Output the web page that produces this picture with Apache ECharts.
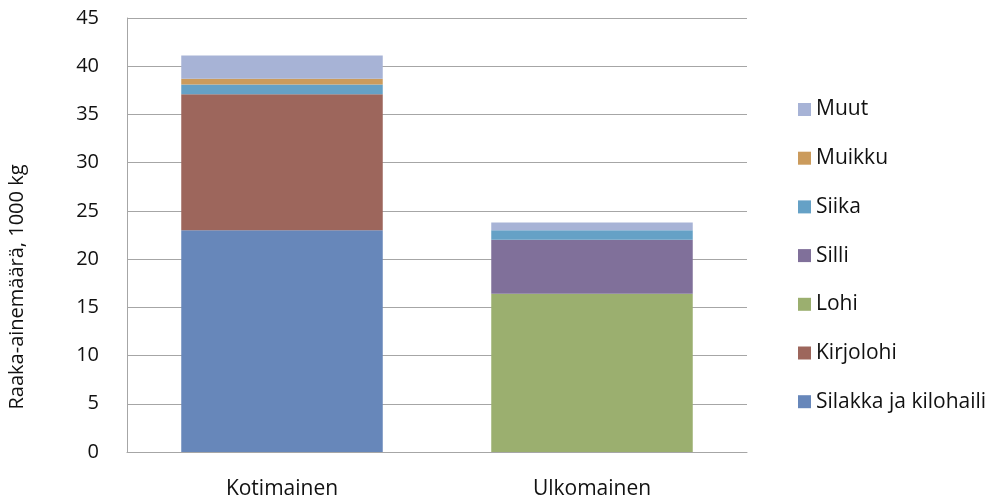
<!DOCTYPE html>
<html>
<head>
<meta charset="utf-8">
<script src="https://cdn.jsdelivr.net/npm/echarts@6/dist/echarts.min.js"></script>
<style>
  html, body { margin: 0; padding: 0; background: #fff; }
  #main { width: 995px; height: 495px; }
</style>
</head>
<body>
<div id="main"></div>
<script>
// categories
const categories = ['Kotimainen', 'Ulkomainen'];
// series values, bottom to top of the stack
const silakka = [23.0, 0];
const kirjolohi = [14.1, 0];
const lohi = [0, 16.4];
const silli = [0, 5.6];
const siika = [1.0, 1.0];
const muikku = [0.6, 0];
const muut = [2.4, 0.8];
const yTicks = [0, 5, 10, 15, 20, 25, 30, 35, 40, 45];

const seriesDefs = [
  { name: 'Silakka ja kilohaili', data: silakka, color: '#6787BA' },
  { name: 'Kirjolohi', data: kirjolohi, color: '#9D665C' },
  { name: 'Lohi', data: lohi, color: '#9BAF6F' },
  { name: 'Silli', data: silli, color: '#80709A' },
  { name: 'Siika', data: siika, color: '#65A1C6' },
  { name: 'Muikku', data: muikku, color: '#CB9B5C' },
  { name: 'Muut', data: muut, color: '#A7B3D6' }
];

let myChart = echarts.init(document.getElementById('main'));
let font = '"Open Sans", "Noto Sans", sans-serif';
let txt = '#111111';

let option = {
  animation: false,
  textStyle: { fontFamily: font },
  grid: { left: 127, right: 248, top: 18, bottom: 43, outerBoundsMode: 'none' },
  legend: {
    orient: 'vertical',
    left: 793,
    top: 94,
    itemWidth: 13,
    itemHeight: 13,
    itemGap: 27.7,
    icon: 'rect',
    data: seriesDefs.map(s => s.name).reverse(),
    textStyle: { fontFamily: font, fontSize: 21, color: txt, padding: [0, 0, 0, 0] }
  },
  xAxis: {
    type: 'category',
    data: categories,
    axisLine: { show: true, lineStyle: { color: '#a6a6a6' } },
    axisTick: { show: false },
    axisLabel: { fontFamily: font, fontSize: 21, color: txt, margin: 27 }
  },
  yAxis: {
    type: 'value',
    min: yTicks[0],
    max: yTicks[yTicks.length - 1],
    interval: 5,
    name: 'Raaka-ainemäärä, 1000 kg',
    nameLocation: 'middle',
    nameGap: 100,
    // title sits a bit below the middle of the axis
    nameTextStyle: { fontFamily: font, fontSize: 20, color: txt, padding: [0, 104, 0, 0] },
    axisLine: { show: true, lineStyle: { color: '#a6a6a6' } },
    axisTick: { show: false },
    axisLabel: { fontFamily: font, fontSize: 20, color: txt, margin: 28 },
    splitLine: { lineStyle: { color: '#a6a6a6', width: 1 } }
  },
  series: seriesDefs.map(s => ({
    name: s.name,
    type: 'bar',
    stack: 'total',
    barWidth: '65%',
    data: s.data,
    itemStyle: { color: s.color }
  }))
};

myChart.setOption(option);
</script>
</body>
</html>
